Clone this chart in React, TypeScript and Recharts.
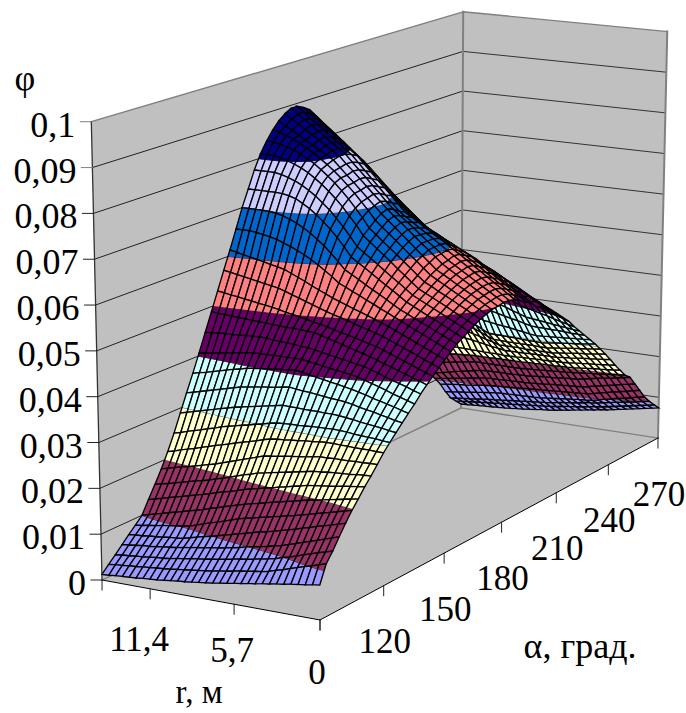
import { ScatterChart, Scatter, XAxis, YAxis } from "recharts";

// r, m (columns of the table) and alpha, deg (rows of the table)
const rValues = [0, 0.475, 0.95, 1.425, 1.9, 2.375, 2.85, 3.325, 3.8, 4.275, 4.75, 5.225, 5.7, 6.175, 6.65, 7.125, 7.6, 8.075, 8.55, 9.025, 9.5, 9.975, 10.45, 10.925, 11.4, 11.875, 12.35, 12.825, 13.3, 13.775, 14.25, 14.725];
const alphaValues = [90, 93, 96, 99, 102, 105, 108, 111, 114, 117, 120, 123, 126, 129, 132, 135, 138, 141, 144, 147, 150, 153, 156, 159, 162, 165, 168, 171, 174, 177, 180, 183, 186, 189, 192, 195, 198, 201, 204, 207, 210, 213, 216, 219, 222, 225, 228, 231, 234, 237, 240, 243, 246, 249, 252, 255, 258, 261, 264, 267, 270];

const phiRows = [
  [74,72,69,67,65,62,60,57,55,52,50,47,45,42,40,37,35,33,31,29,28,26,24,22,21,20,18,17,16,15,13,12],
  [112,107,102,98,93,88,83,79,74,71,69,66,64,61,58,56,53,51,49,47,45,43,41,39,38,36,35,33,32,30,29,27],
  [132,127,123,118,113,108,103,99,94,91,88,85,82,80,77,74,71,69,66,64,62,59,57,54,52,51,49,47,46,44,43,41],
  [155,150,145,140,135,130,125,120,115,112,108,105,102,99,95,92,89,86,84,81,79,76,74,71,69,67,65,63,62,60,58,56],
  [177,173,168,164,160,155,151,146,142,138,134,130,127,123,119,115,111,107,103,99,96,92,88,84,82,81,79,77,76,74,73,71],
  [198,194,190,186,182,178,174,170,166,163,159,156,152,149,145,142,138,133,128,123,119,114,109,104,102,99,97,95,92,90,87,85],
  [216,213,210,207,204,201,198,195,192,188,185,181,178,174,170,167,163,159,154,150,145,141,136,132,128,124,120,116,112,108,104,100],
  [235,233,231,229,226,224,222,220,218,214,211,207,204,200,197,193,190,186,181,177,173,169,164,160,156,152,148,144,140,136,132,128],
  [252,251,250,248,247,246,245,243,242,239,236,233,230,227,224,221,218,213,209,204,199,194,190,185,181,178,174,170,166,162,159,155],
  [270,270,269,269,268,268,268,267,267,265,262,260,258,256,253,251,249,244,239,234,229,224,219,214,210,206,202,198,195,191,187,183],
  [289,289,290,290,290,291,291,292,292,291,289,288,286,285,283,282,280,276,271,267,263,259,254,250,246,241,237,232,228,224,219,215],
  [305,306,308,309,310,311,313,314,315,314,314,313,312,311,311,310,309,306,302,299,295,292,288,285,281,276,272,267,263,259,254,250],
  [320,322,325,327,329,331,334,336,338,339,339,340,340,340,341,341,342,339,336,333,330,327,324,321,317,313,309,305,301,297,293,289],
  [335,338,342,345,349,352,355,359,362,364,365,367,369,371,372,374,376,374,371,369,367,365,362,360,356,352,348,344,340,336,332,328],
  [350,354,359,363,367,371,376,380,384,387,390,393,396,399,402,405,408,406,405,403,401,400,398,396,392,389,385,381,377,373,370,366],
  [364,369,374,379,385,390,395,400,405,408,410,413,415,418,421,423,426,426,426,426,426,425,425,425,423,420,418,416,413,411,408,406],
  [380,385,391,396,401,406,412,417,422,425,428,431,434,437,440,443,446,447,449,450,451,452,454,455,454,453,452,451,451,450,449,447],
  [394,400,405,411,416,422,427,433,438,443,447,452,456,461,465,470,474,475,476,477,477,478,479,480,481,482,483,484,485,486,487,488],
  [407,413,419,425,431,437,443,449,455,459,463,467,471,475,479,483,487,490,494,497,500,503,507,510,513,515,518,520,523,525,528,530],
  [420,427,433,440,446,453,459,466,472,477,482,486,491,496,501,505,510,515,521,526,532,537,543,548,551,554,557,560,563,566,569,572],
  [432,439,446,453,460,467,474,481,488,494,500,506,512,517,523,529,535,542,549,556,564,571,578,585,589,592,596,599,603,606,610,613],
  [444,451,459,466,474,481,488,496,503,511,518,526,533,541,548,556,563,576,587,598,608,617,625,632,638,644,648,651,654,656,656,656],
  [455,462,470,477,485,492,499,507,514,523,533,542,551,560,570,579,588,605,621,636,649,661,671,680,687,693,697,699,700,700,700,700],
  [463,471,479,487,495,502,510,518,526,537,548,558,569,580,591,601,612,633,652,669,684,698,710,720,729,734,737,738,738,738,738,738],
  [472,480,488,496,504,512,520,528,536,548,560,571,583,595,607,618,630,651,671,689,706,720,734,745,755,763,769,774,777,777,777,777],
  [480,488,496,504,513,521,529,537,545,558,571,584,598,611,624,637,650,672,691,710,727,742,756,768,779,788,795,801,806,809,810,810],
  [488,496,505,513,522,530,538,547,555,568,582,595,609,622,635,649,662,684,704,723,740,756,770,783,795,805,813,821,826,831,834,835],
  [493,502,511,520,529,538,547,556,565,579,593,606,620,634,648,661,675,695,713,731,747,763,777,790,802,813,823,832,840,846,852,856],
  [498,507,517,526,535,544,554,563,572,586,600,614,629,643,657,671,685,701,717,733,749,764,780,796,806,815,825,834,844,854,863,873],
  [500,510,520,530,540,550,560,570,580,594,608,621,635,649,663,676,690,706,721,737,753,769,784,800,811,821,832,843,853,864,874,885],
  [503,513,523,533,543,553,563,573,583,596,609,621,634,647,660,672,685,701,718,734,751,767,783,800,812,823,835,846,858,870,881,893],
  [502,513,524,534,545,556,567,577,588,599,610,621,632,642,653,664,675,692,709,726,743,760,777,794,806,819,831,844,856,868,881,893],
  [498,509,520,531,542,553,564,575,586,596,607,617,627,637,648,658,668,685,702,719,735,752,769,786,798,811,823,836,848,861,873,886],
  [490,501,512,523,534,545,556,567,578,587,597,606,615,625,634,644,653,670,686,703,720,737,753,770,783,796,810,823,836,849,863,876],
  [482,493,504,515,526,537,548,559,570,579,587,596,604,613,621,630,638,654,670,686,702,718,734,750,763,776,788,801,814,827,839,852],
  [472,483,494,504,515,526,537,547,558,566,574,582,590,598,606,614,622,637,652,667,682,697,712,727,740,753,766,779,793,806,819,832],
  [458,468,479,489,499,509,520,530,540,548,557,565,574,582,590,599,607,621,635,649,663,677,691,705,718,731,744,757,770,782,795,808],
  [455,464,473,482,491,501,510,519,528,536,544,551,559,567,575,582,590,603,617,630,643,656,670,683,696,709,722,735,748,761,774,787],
  [442,451,460,469,479,488,497,506,515,522,529,536,543,551,558,565,572,585,598,611,624,637,650,663,676,689,702,716,729,742,755,768],
  [430,439,448,456,465,474,483,491,500,507,514,521,528,534,541,548,555,568,581,594,606,619,632,645,656,668,679,690,701,713,724,735],
  [418,426,433,441,448,456,463,471,478,485,492,499,507,514,521,528,535,547,559,571,584,596,608,620,631,641,652,663,673,684,694,705],
  [404,410,417,423,429,435,442,448,454,462,470,478,486,494,502,510,518,529,539,550,561,572,582,593,603,613,623,633,643,653,663,673],
  [390,396,401,407,413,418,424,429,435,443,451,458,466,474,482,489,497,507,516,526,536,546,555,565,574,584,593,603,612,621,631,640],
  [372,376,380,384,389,393,397,401,405,412,419,426,433,439,446,453,460,470,479,489,499,509,518,528,537,545,554,562,571,579,588,596],
  [356,358,360,362,364,366,368,370,372,378,383,389,394,400,405,411,416,426,436,446,456,465,475,485,494,503,511,520,529,538,546,555],
  [340,341,341,342,343,343,344,344,345,349,353,356,360,364,368,371,375,384,394,403,412,421,431,440,449,458,466,475,484,493,501,510],
  [324,323,322,321,320,319,318,317,316,318,321,323,326,328,330,333,335,344,352,361,369,378,386,395,403,411,418,426,434,442,449,457],
  [308,306,304,302,301,299,297,295,293,294,294,295,296,296,297,297,298,306,314,322,331,339,347,355,361,368,374,380,386,393,399,405],
  [290,288,286,284,283,281,279,277,275,275,276,276,276,276,276,277,277,283,290,296,303,309,316,322,326,329,333,336,340,343,347,350],
  [272,270,268,266,265,263,261,259,257,257,257,257,257,258,258,258,258,263,267,272,276,281,285,290,292,294,296,298,300,302,304,306],
  [253,251,250,248,247,245,243,242,240,240,240,240,240,239,239,239,239,242,244,247,250,253,255,258,259,259,260,260,261,262,262,263],
  [233,232,230,229,228,226,225,223,222,222,221,221,221,220,220,219,219,219,220,220,220,221,221,222,222,222,221,221,221,221,220,220],
  [215,214,212,211,210,208,207,205,204,204,203,203,203,202,202,201,201,201,201,201,200,200,200,200,198,197,195,194,192,191,189,188],
  [197,196,194,193,191,190,188,187,185,184,183,182,181,180,179,178,177,177,177,177,177,177,177,177,175,172,170,167,165,162,160,157],
  [186,183,180,177,175,172,169,166,163,162,161,159,158,157,156,154,153,153,152,152,152,151,151,150,147,144,141,138,134,131,128,125],
  [164,161,158,154,151,148,145,141,138,137,136,135,134,133,131,130,129,128,128,127,127,126,126,125,123,120,118,115,113,110,108,105],
  [142,139,135,132,129,125,122,118,115,114,113,112,111,110,109,108,107,106,105,104,103,102,101,100,98,96,94,92,91,89,87,85],
  [120,117,113,110,107,103,100,96,93,91,90,88,87,85,83,82,80,79,79,78,78,77,77,76,74,72,70,68,66,64,62,60],
  [103,100,97,94,92,89,86,83,80,78,76,73,71,69,67,64,62,61,59,58,56,55,53,52,50,49,47,45,43,42,40,38],
  [88,85,82,79,76,73,70,67,64,62,60,57,55,53,51,48,46,45,43,42,40,39,37,36,35,33,32,30,29,27,26,24],
  [74,71,68,65,62,59,56,53,50,48,45,43,40,38,35,33,30,28,27,25,23,21,20,18,17,16,15,14,13,12,11,10],
];

const phiTicks = [0, 0.01, 0.02, 0.03, 0.04, 0.05, 0.06, 0.07, 0.08, 0.09, 0.1];
const phiLabels = ["0", "0,01", "0,02", "0,03", "0,04", "0,05", "0,06", "0,07", "0,08", "0,09", "0,1"];
const rTicks = [0, 5.7, 11.4];
const rLabels = ["0", "5,7", "11,4"];
const alphaTicks = [120, 150, 180, 210, 240, 270];
const alphaLabels = ["120", "150", "180", "210", "240", "270"];

const bandColors = ["#9999FF", "#993366", "#FFFFCC", "#CCFFFF", "#660066", "#FF8080", "#0066CC", "#CCCCFF", "#000080"];
const WALL = "#C0C0C0";
const EDGE = "#808080";
const FONT = "'Liberation Serif', 'Times New Roman', serif";

const R_MAX = rValues[rValues.length - 1];
const WIDTH = 686;
const HEIGHT = 713;

type Pt = { x: number; y: number; phi: number };

// perspective of the box: floor corners are (320,620) (102,580) (461,408) (658,438)
function project(r: number, alpha: number, phi: number): Pt {
  const u = r / R_MAX;
  const v = (alpha - 90) / 180;
  const w = phi / 0.1;
  const d = 1 + 0.03 * u + 0.1613 * v;
  const xf = (320 - 214.9 * u + 444.1 * v) / d;
  const yf = (620 - 22.6 * u - 111.35 * v) / d;
  return { x: xf + (xf - 400) * 0.036 * w, y: yf - (472 / d) * w, phi };
}

const toPath = (pts: { x: number; y: number }[], dx: number, dy: number) =>
  "M" + pts.map((p) => (p.x + dx).toFixed(2) + " " + (p.y + dy).toFixed(2)).join("L") + "Z";

// cut a polygon to the part with phi on one side of a level
function clip(pts: Pt[], level: number, keepAbove: boolean): Pt[] {
  const out: Pt[] = [];
  pts.forEach((a, i) => {
    const b = pts[(i + 1) % pts.length];
    const aIn = keepAbove ? a.phi >= level : a.phi <= level;
    const bIn = keepAbove ? b.phi >= level : b.phi <= level;
    if (aIn) out.push(a);
    if (aIn !== bIn) {
      const t = (level - a.phi) / (b.phi - a.phi);
      out.push({ x: a.x + (b.x - a.x) * t, y: a.y + (b.y - a.y) * t, phi: level });
    }
  });
  return out;
}

function crossing(pts: Pt[], level: number) {
  const hits: { x: number; y: number }[] = [];
  pts.forEach((a, i) => {
    const b = pts[(i + 1) % pts.length];
    if (a.phi < level !== b.phi < level) {
      const t = (level - a.phi) / (b.phi - a.phi);
      hits.push({ x: a.x + (b.x - a.x) * t, y: a.y + (b.y - a.y) * t });
    }
  });
  return hits;
}

function CellShape(props: any) {
  const { cx, cy, payload } = props;
  const dx = cx - payload.x;
  const dy = cy - payload.y;
  const quad: Pt[] = payload.quad;
  const parts: any[] = [];
  bandColors.forEach((color, k) => {
    const poly = clip(clip(quad, k * 0.01, true), (k + 1) * 0.01, false);
    if (poly.length > 2) {
      parts.push(<path key={k} d={toPath(poly, dx, dy)} fill={color} stroke={color} strokeWidth={0.3} />);
    }
    const hits = crossing(quad, (k + 1) * 0.01);
    if (hits.length === 2) {
      parts.push(
        <line key={"c" + k} x1={hits[0].x + dx} y1={hits[0].y + dy} x2={hits[1].x + dx} y2={hits[1].y + dy} stroke="#000" strokeWidth={0.8} />
      );
    }
  });
  return (
    <g>
      {parts}
      <path d={toPath(quad, dx, dy)} fill="none" stroke="#000" strokeWidth={1.35} />
    </g>
  );
}

function PolyShape(props: any) {
  const { cx, cy, payload } = props;
  return <path d={toPath(payload.pts, cx - payload.x, cy - payload.y)} fill={WALL} stroke="none" />;
}

function LineShape(props: any) {
  const { cx, cy, payload } = props;
  const dx = cx - payload.x;
  const dy = cy - payload.y;
  return (
    <line
      x1={cx}
      y1={cy}
      x2={payload.x2 + dx}
      y2={payload.y2 + dy}
      stroke={payload.stroke}
      strokeWidth={payload.width}
      strokeLinecap="square"
    />
  );
}

function TextShape(props: any) {
  const { cx, cy, payload } = props;
  return (
    <text x={cx} y={cy} textAnchor={payload.anchor} dominantBaseline="central" fontFamily={FONT} fontSize={payload.size} fill="#000">
      {payload.text}
    </text>
  );
}

const AL0 = alphaValues[0];
const AL1 = alphaValues[alphaValues.length - 1];

const corner = (r: number, a: number, phi = 0) => project(r, a, phi);

const poly = (pts: Pt[]) => ({ x: pts[0].x, y: pts[0].y, pts });
const wallData = [
  poly([corner(R_MAX, AL0), corner(R_MAX, AL1), corner(R_MAX, AL1, 0.1), corner(R_MAX, AL0, 0.1)]),
  poly([corner(R_MAX, AL1), corner(0, AL1), corner(0, AL1, 0.1), corner(R_MAX, AL1, 0.1)]),
  poly([corner(0, AL0), corner(R_MAX, AL0), corner(R_MAX, AL1), corner(0, AL1)]),
];

const seg = (a: Pt, b: Pt, stroke: string, width: number) => ({ x: a.x, y: a.y, x2: b.x, y2: b.y, stroke, width });

const lineData = [
  ...phiTicks.slice(1, -1).flatMap((p) => [
    seg(corner(R_MAX, AL0, p), corner(R_MAX, AL1, p), "#222", 1),
    seg(corner(R_MAX, AL1, p), corner(0, AL1, p), "#333", 1),
  ]),
  seg(corner(R_MAX, AL0, 0.1), corner(R_MAX, AL1, 0.1), EDGE, 1.4),
  seg(corner(R_MAX, AL1, 0.1), corner(0, AL1, 0.1), EDGE, 1.4),
  seg(corner(R_MAX, AL1), corner(R_MAX, AL1, 0.1), EDGE, 2),
  seg(corner(0, AL1), corner(0, AL1, 0.1), EDGE, 2),
  seg(corner(R_MAX, AL0), corner(R_MAX, AL0, 0.1), "#333", 1.3),
  seg(corner(R_MAX, AL1), corner(0, AL1), EDGE, 1.4),
  seg(corner(R_MAX, AL1), corner(R_MAX, AL0), EDGE, 1.4),
  seg(corner(R_MAX, AL0), corner(0, AL0), "#000", 1),
  seg(corner(0, AL0), corner(0, AL1), "#000", 1),
  // ticks
  ...phiTicks.map((p) => {
    const c = corner(R_MAX, AL0, p);
    return seg(c, { ...c, x: c.x - 11 }, p > 0.085 ? EDGE : "#222", 1);
  }),
  ...[R_MAX, ...rTicks].map((r) => {
    const c = corner(r, AL0);
    return seg(c, { ...c, y: c.y + 10 }, "#222", 1);
  }),
  ...[AL0, ...alphaTicks].map((a) => {
    const c = corner(0, a);
    return seg(c, { ...c, y: c.y + 10 }, "#222", 1);
  }),
];

// back to front so nearer cells cover farther ones
const cellData: any[] = [];
for (let i = alphaValues.length - 2; i >= 0; i--) {
  for (let j = rValues.length - 2; j >= 0; j--) {
    const quad = [
      project(rValues[j], alphaValues[i], phiRows[i][j] / 10000),
      project(rValues[j + 1], alphaValues[i], phiRows[i][j + 1] / 10000),
      project(rValues[j + 1], alphaValues[i + 1], phiRows[i + 1][j + 1] / 10000),
      project(rValues[j], alphaValues[i + 1], phiRows[i + 1][j] / 10000),
    ];
    cellData.push({ x: quad[0].x, y: quad[0].y, quad });
  }
}

const rLabelOffsets = [
  [-3, 52],
  [-2, 46],
  [-11, 51],
];

const textData = [
  ...phiLabels.map((text, i) => {
    const c = corner(R_MAX, AL0, phiTicks[i]);
    return { x: c.x - 16, y: c.y + 3, text, anchor: "end", size: 36 };
  }),
  ...rLabels.map((text, i) => {
    const c = corner(rTicks[i], AL0);
    return { x: c.x + rLabelOffsets[i][0], y: c.y + rLabelOffsets[i][1], text, anchor: "middle", size: 35 };
  }),
  ...alphaLabels.map((text, i) => {
    const c = corner(0, alphaTicks[i]);
    return { x: c.x + 1, y: c.y + 56, text, anchor: "middle", size: 35 };
  }),
  { x: 25, y: 78, text: "φ", anchor: "middle", size: 36 },
  { x: 199, y: 692, text: "r, м", anchor: "middle", size: 33 },
  { x: 580, y: 646, text: "α, град.", anchor: "middle", size: 36 },
];

export default function App() {
  return (
    <div style={{ position: "absolute", left: 0, top: 0, width: WIDTH, height: HEIGHT, background: "#fff" }}>
      <ScatterChart width={WIDTH} height={HEIGHT} margin={{ top: 0, right: 0, bottom: 0, left: 0 }}>
        <XAxis type="number" dataKey="x" domain={[0, WIDTH]} hide allowDataOverflow />
        <YAxis type="number" dataKey="y" domain={[0, HEIGHT]} reversed hide allowDataOverflow />
        <Scatter data={wallData} shape={PolyShape} isAnimationActive={false} />
        <Scatter data={lineData} shape={LineShape} isAnimationActive={false} />
        <Scatter data={cellData} shape={CellShape} isAnimationActive={false} />
        <Scatter data={textData} shape={TextShape} isAnimationActive={false} />
      </ScatterChart>
    </div>
  );
}
